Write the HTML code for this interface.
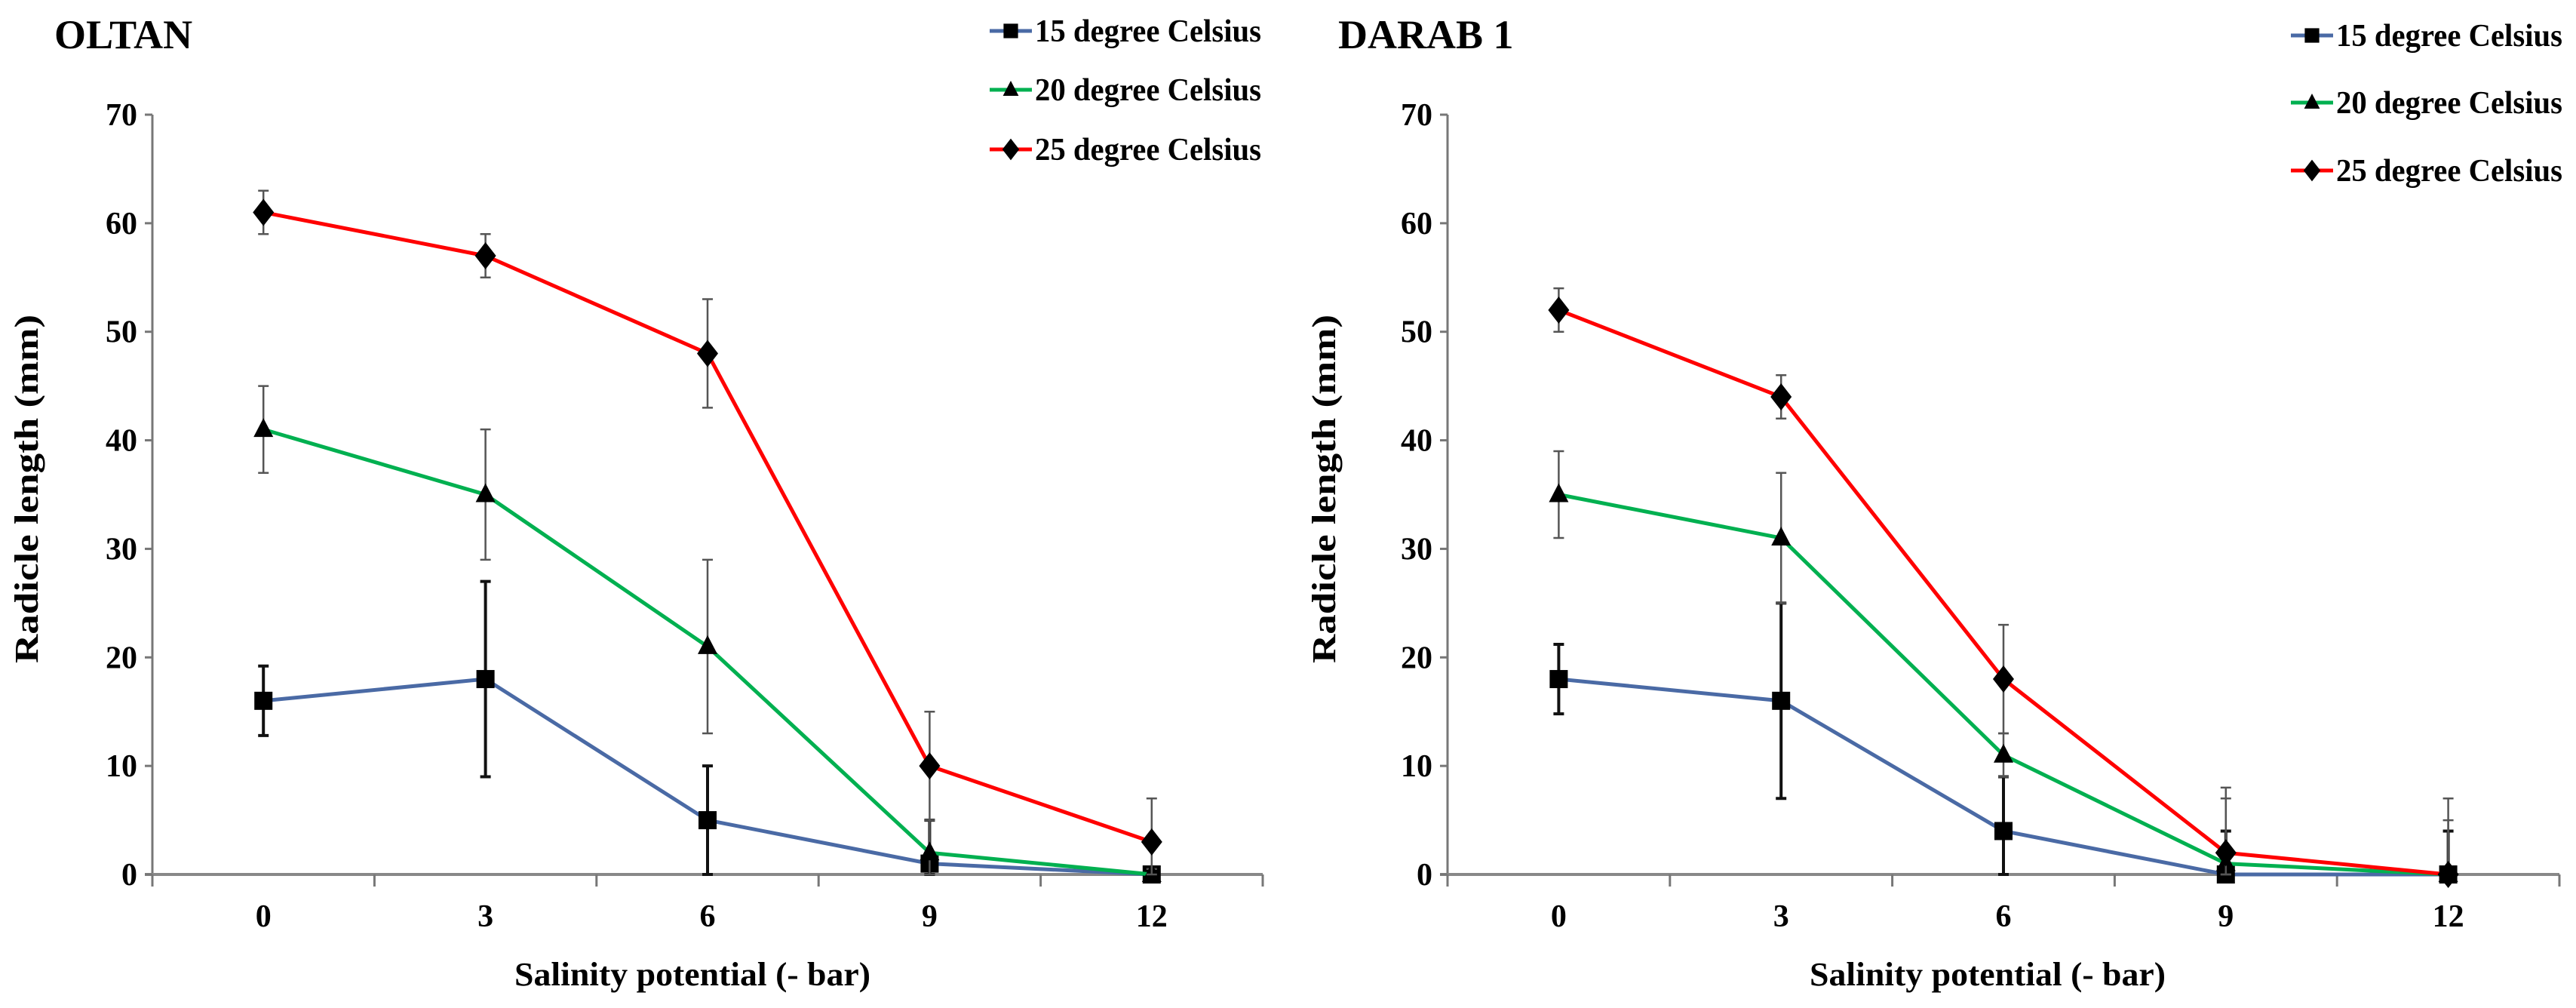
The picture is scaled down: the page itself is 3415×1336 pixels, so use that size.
<!DOCTYPE html>
<html><head><meta charset="utf-8"><style>
html,body{margin:0;padding:0;background:#fff;}
svg{display:block;}
text{font-family:"Liberation Serif",serif;font-weight:bold;fill:#000;}
</style></head>
<body>
<svg id="chart" width="3415" height="1336" viewBox="0 0 3415 1336" xmlns="http://www.w3.org/2000/svg"></svg>
<script>
const categories = ["0","3","6","9","12"];
const yTicks = [0,10,20,30,40,50,60,70];
const seriesNames = ["15 degree Celsius","20 degree Celsius","25 degree Celsius"];
const oltan15 = [16,18,5,1,0];
const oltan20 = [41,35,21,2,0];
const oltan25 = [61,57,48,10,3];
const oltan15Err = [3.2,9,5,4,0.5];
const oltan20Err = [4,6,8,3,0.5];
const oltan25Err = [2,2,5,5,4];
const darab15 = [18,16,4,0,0];
const darab20 = [35,31,11,1,0];
const darab25 = [52,44,18,2,0];
const darab15Err = [3.2,9,5,4,4];
const darab20Err = [4,6,2,6,5];
const darab25Err = [2,2,5,6,7];

const NS = "http://www.w3.org/2000/svg";
const svg = document.getElementById('chart');
function mk(tag, attrs, parent){
  const e = document.createElementNS(NS, tag);
  for (const k in attrs) e.setAttribute(k, attrs[k]);
  (parent||svg).appendChild(e);
  return e;
}
const colors = ["#4a6aa5","#00b050","#ff0000"];

function panel(cfg){
  const g = mk('g', {});
  
  
  const x0 = cfg.axisX, band = cfg.band, yTop = 152, yBot = 1159;
  const xs = i => x0 + band*(i+0.5);
  const ys = v => yBot - (v/70)*(yBot-yTop);
  // title
  const t = mk('text', {x:cfg.titleX, y:64, 'font-size':54}, g);
  t.textContent = cfg.title;
  
  
  // axes
  const ya = mk('line', {x1:x0, y1:yTop, x2:x0, y2:yBot, stroke:'#777', 'stroke-width':3}, g);
  
  
  const xEnd = x0 + band*categories.length;
  const xa = mk('line', {x1:x0-10, y1:yBot, x2:xEnd, y2:yBot, stroke:'#888', 'stroke-width':4}, g);
  
  
  yTicks.forEach(v=>{
    mk('line', {x1:x0-10, y1:ys(v), x2:x0, y2:ys(v), stroke:'#777', 'stroke-width':3}, g);
    const tl = mk('text', {x:x0-20, y:ys(v)+14, 'font-size':42, 'text-anchor':'end'}, g);
    tl.textContent = v;
    
    
  });
  for (let i=0;i<=categories.length;i++){
    mk('line', {x1:x0+band*i, y1:yBot, x2:x0+band*i, y2:yBot+16, stroke:'#777', 'stroke-width':3}, g);
  }
  categories.forEach((c,i)=>{
    const tl = mk('text', {x:xs(i), y:1228, 'font-size':42, 'text-anchor':'middle'}, g);
    tl.textContent = c;
    
    
  });
  const xt = mk('text', {x:cfg.xTitleX, y:1306, 'font-size':44, 'text-anchor':'middle', textLength:472, lengthAdjust:'spacingAndGlyphs'}, g);
  xt.textContent = "Salinity potential  (- bar)";
  
  
  const yt = mk('text', {x:0, y:0, 'font-size':44, 'text-anchor':'middle', textLength:462, lengthAdjust:'spacingAndGlyphs', transform:`translate(${cfg.yTitleX},648) rotate(-90)`}, g);
  yt.textContent = "Radicle length (mm)";
  
  
  // series
  cfg.series.forEach((s,si)=>{
    const sg = mk('g', {}, g);
    
    
    // error bars
    s.vals.forEach((v,i)=>{
      const e = s.err[i];
      const lo = Math.max(0, v-e), hi = v+e;
      const w = si===0 ? 4 : 2.5, col = si===0 ? '#111' : '#555';
      const eb = mk('path', {d:`M${xs(i)} ${ys(hi)}V${ys(lo)}M${xs(i)-7} ${ys(hi)}H${xs(i)+7}M${xs(i)-7} ${ys(lo)}H${xs(i)+7}`, stroke:col, 'stroke-width':w, fill:'none'}, sg);
      
      
    });
    const pts = s.vals.map((v,i)=>xs(i)+','+ys(v)).join(' ');
    const pl = mk('polyline', {points:pts, fill:'none', stroke:colors[si], 'stroke-width':5, 'stroke-linejoin':'round'}, sg);
    
    
    s.vals.forEach((v,i)=>{
      const m = marker(si, xs(i), ys(v), sg);
      
      
    });
  });
  // legend
  seriesNames.forEach((n,i)=>{
    const ly = cfg.legendY[i];
    const lg = mk('g', {}, g);
    
    
    mk('line', {x1:cfg.legendX, y1:ly, x2:cfg.legendX+56, y2:ly, stroke:colors[i], 'stroke-width':5}, lg);
    marker(i, cfg.legendX+28, ly, lg, 0.8);
    const lt = mk('text', {x:cfg.legendX+60, y:ly+14, 'font-size':42, textLength:300, lengthAdjust:'spacingAndGlyphs'}, lg);
    lt.textContent = n;
  });
}
function marker(type, x, y, parent, s){
  s = s||1;
  if (type===0) return mk('rect', {x:x-12*s, y:y-12*s, width:24*s, height:24*s, fill:'#000'}, parent);
  if (type===1) return mk('path', {d:`M${x} ${y-15*s}L${x+13*s} ${y+10*s}L${x-13*s} ${y+10*s}Z`, fill:'#000'}, parent);
  return mk('path', {d:`M${x} ${y-18*s}L${x+14*s} ${y}L${x} ${y+18*s}L${x-14*s} ${y}Z`, fill:'#000'}, parent);
}

panel({name:'oltan-panel', title:'OLTAN', titleX:72, axisX:202, band:294.4, xTitleX:918, yTitleX:50,
  legendX:1312, legendY:[41,119,198],
  series:[{vals:oltan15,err:oltan15Err},{vals:oltan20,err:oltan20Err},{vals:oltan25,err:oltan25Err}]});
panel({name:'darab-panel', title:'DARAB 1', titleX:1774, axisX:1919, band:294.8, xTitleX:2635, yTitleX:1770,
  legendX:3037, legendY:[47,136,226],
  series:[{vals:darab15,err:darab15Err},{vals:darab20,err:darab20Err},{vals:darab25,err:darab25Err}]});
</script>
</body></html>
